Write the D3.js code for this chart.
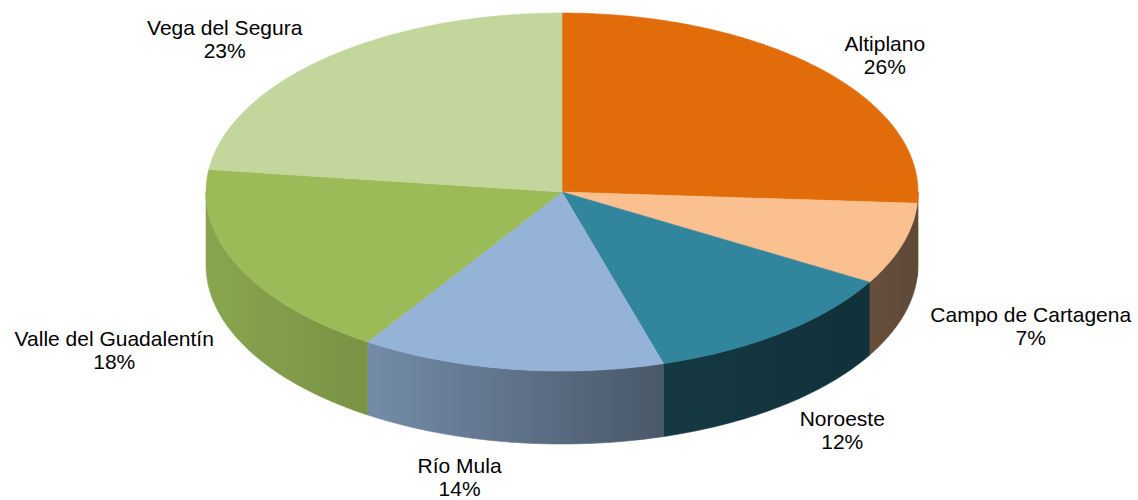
<!DOCTYPE html>
<html><head><meta charset="utf-8">
<script src="https://cdn.jsdelivr.net/npm/d3@7"></script>
<style>body{margin:0;background:#fff}svg{display:block}</style>
</head><body>
<svg id="c" width="1138" height="500"></svg>
<script>
// ---- data ----
const categories = ["Altiplano","Campo de Cartagena","Noroeste","Río Mula","Valle del Guadalentín","Vega del Segura"];
const values = [26.0, 7.4, 12.0, 13.8, 17.8, 23.0];
// ---- styles / layout ----
const topColors = ["#E26B0A","#FAC090","#31859C","#95B3D7","#9BBB59","#C3D69B"];
const sideShade = [[0.45,0.42],[0.41,0.38],[0.43,0.37],[0.78,0.49],[0.88,0.78],[0.8,0.8]];
const labelNudge = [[8,11],[-2,-2],[12,-6],[-40,-3],[-2,-6],[-27,10]];

const cx = 562, cy = 192, rx = 356, ry = 179, depth = 73;
const svg = d3.select("#c");
const defs = svg.append("defs");
const pie = d3.pie().sort(null).value(d => d.v);
const arcs = pie(categories.map((c, i) => ({c, v: values[i], i})));
const total = d3.sum(values);
const pct = d3.format(".0%");
const px = t => cx + rx * Math.sin(t), py = t => cy - ry * Math.cos(t);
const line = d3.line();
function samples(a0, a1) {
  const n = Math.max(4, Math.ceil((a1 - a0) * 80));
  const s = d3.scaleLinear().domain([0, n]).range([a0, a1]);
  return d3.range(n + 1).map(s);
}
function scaleColor(c, f) {
  const r = d3.rgb(c);
  return d3.rgb(r.r * f, r.g * f, r.b * f).formatHex();
}

// sides (front half only)
const gSide = svg.append("g");
arcs.forEach(a => {
  const s0 = Math.max(a.startAngle, Math.PI / 2), s1 = Math.min(a.endAngle, 3 * Math.PI / 2);
  if (s1 <= s0) return;
  const ts = samples(s0, s1);
  const pts = ts.map(t => [px(t), py(t)]).concat(ts.slice().reverse().map(t => [px(t), py(t) + depth]));
  const xs = pts.map(p => p[0]);
  const id = "sg" + a.index;
  const gr = defs.append("linearGradient").attr("id", id).attr("gradientUnits", "userSpaceOnUse")
    .attr("x1", d3.min(xs)).attr("x2", d3.max(xs)).attr("y1", 0).attr("y2", 0);
  const sh = sideShade[a.index];
  gr.append("stop").attr("offset", 0).attr("stop-color", scaleColor(topColors[a.index], sh[0]));
  gr.append("stop").attr("offset", 1).attr("stop-color", scaleColor(topColors[a.index], sh[1]));
  gSide.append("path").attr("d", line(pts) + "Z").attr("fill", `url(#${id})`)
    .attr("stroke", `url(#${id})`).attr("stroke-width", 0.6);
});

// top faces
const gTop = svg.append("g");
arcs.forEach(a => {
  const ts = samples(a.startAngle, a.endAngle);
  const pts = [[cx, cy]].concat(ts.map(t => [px(t), py(t)]));
  gTop.append("path").attr("d", line(pts) + "Z").attr("fill", topColors[a.index])
    .attr("stroke", topColors[a.index]).attr("stroke-width", 0.6).attr("stroke-linejoin", "round");
});

// labels
const gLab = svg.append("g").attr("font-family", "'Liberation Sans', Arial, sans-serif")
  .attr("font-size", 21).attr("fill", "#000").attr("text-anchor", "middle");
arcs.forEach(a => {
  const m = (a.startAngle + a.endAngle) / 2;
  const s = Math.sin(m), c = Math.cos(m);
  const t = gLab.append("text");
  const t1 = t.append("tspan").attr("x", 0).attr("y", 0).text(a.data.c);
  const t2 = t.append("tspan").attr("x", 0).attr("y", 23).text(pct(a.data.v / total));
  const halfW = Math.max(t1.node().getComputedTextLength(), t2.node().getComputedTextLength()) / 2;
  const bx = cx + rx * 1.1 * s, by = cy - ry * 1.1 * c + (c < 0 ? depth : 0);
  const nx = bx + s * halfW + labelNudge[a.index][0];
  const ny = by - c * 20 + labelNudge[a.index][1];
  t.attr("transform", `translate(${nx},${ny - 4})`);
});
</script>
</body></html>
